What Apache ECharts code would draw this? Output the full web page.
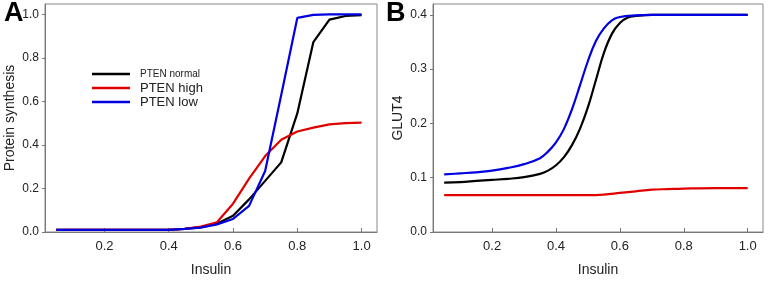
<!DOCTYPE html>
<html>
<head>
<meta charset="utf-8">
<script src="https://cdn.jsdelivr.net/npm/echarts@6/dist/echarts.min.js"></script>
<style>
  html, body { margin: 0; padding: 0; background: #fff; }
  #main { width: 769px; height: 282px; }
</style>
</head>
<body>
<div id="main"></div>
<script>
// panel A: protein synthesis vs insulin (straight segments, step 0.05)
var insulinA = [0.05, 0.1, 0.15, 0.2, 0.25, 0.3, 0.35, 0.4, 0.45, 0.5, 0.55, 0.6, 0.65, 0.7, 0.75, 0.8, 0.85, 0.9, 0.95, 1.0];
var normalA = [0.01, 0.01, 0.01, 0.01, 0.01, 0.01, 0.01, 0.01, 0.014, 0.022, 0.038, 0.075, 0.15, 0.235, 0.32, 0.545, 0.873, 0.976, 0.993, 0.997];
var highA   = [0.01, 0.01, 0.01, 0.01, 0.01, 0.01, 0.01, 0.01, 0.015, 0.025, 0.045, 0.13, 0.245, 0.349, 0.424, 0.462, 0.48, 0.495, 0.5, 0.503];
var lowA    = [0.01, 0.01, 0.01, 0.01, 0.01, 0.01, 0.01, 0.01, 0.014, 0.02, 0.035, 0.06, 0.12, 0.28, 0.63, 0.984, 0.998, 1.0, 1.0, 1.0];

// panel B: GLUT4 vs insulin
var insulinNormB = [0.05, 0.1, 0.15, 0.2, 0.25, 0.3, 0.35, 0.375, 0.4, 0.425, 0.45, 0.475, 0.5, 0.525, 0.55, 0.575, 0.6, 0.625, 0.65, 0.7, 0.8, 0.9, 1.0];
var normalB      = [0.091, 0.092, 0.094, 0.096, 0.098, 0.101, 0.107, 0.113, 0.123, 0.138, 0.16, 0.19, 0.23, 0.28, 0.33, 0.365, 0.385, 0.395, 0.398, 0.4, 0.4, 0.4, 0.4];
var insulinLowB  = [0.05, 0.1, 0.15, 0.2, 0.25, 0.3, 0.35, 0.375, 0.4, 0.425, 0.45, 0.475, 0.5, 0.525, 0.55, 0.575, 0.6, 0.65, 0.7, 0.8, 0.9, 1.0];
var lowB         = [0.106, 0.108, 0.11, 0.113, 0.118, 0.125, 0.136, 0.148, 0.165, 0.19, 0.226, 0.27, 0.315, 0.352, 0.375, 0.39, 0.396, 0.399, 0.4, 0.4, 0.4, 0.4];
var insulinHighB = [0.05, 0.2, 0.4, 0.5, 0.55, 0.6, 0.65, 0.7, 0.75, 0.8, 0.9, 1.0];
var highB        = [0.068, 0.068, 0.068, 0.068, 0.069, 0.072, 0.075, 0.078, 0.079, 0.08, 0.081, 0.081];

var xTicks = [0.2, 0.4, 0.6, 0.8, 1.0];
var yTicksA = [0, 0.2, 0.4, 0.6, 0.8, 1.0];
var yTicksB = [0, 0.1, 0.2, 0.3, 0.4];

function pairs(xs, ys) {
    return xs.map(function (x, i) { return [x, ys[i]]; });
}

var font = 'Liberation Sans, Arial, sans-serif';
var black = '#000000', red = '#e00000', blue = '#0000e0';

function xAxis(idx) {
    return {
        type: 'value', gridIndex: idx, min: 0.015, max: 1.048,
        name: 'Insulin', nameLocation: 'middle', nameGap: 31,
        nameTextStyle: { fontFamily: font, fontSize: 14, color: '#222' },
        splitLine: { show: false },
        axisLine: { lineStyle: { color: '#777' } },
        axisTick: { inside: true, length: 4, customValues: xTicks, lineStyle: { color: '#777' } },
        axisLabel: { customValues: xTicks, margin: 8, fontFamily: font, fontSize: 13, color: '#222',
            formatter: function (v) { return v.toFixed(1); } }
    };
}
function yAxis(idx, max, ticks, name) {
    return {
        type: 'value', gridIndex: idx, min: 0, max: max,
        name: name, nameLocation: 'middle', nameGap: 28,
        nameTextStyle: { fontFamily: font, fontSize: 14, color: '#222' },
        splitLine: { show: false },
        axisLine: { lineStyle: { color: '#777' } },
        axisTick: { length: 3, customValues: ticks, lineStyle: { color: '#777' } },
        axisLabel: { customValues: ticks, margin: 6, fontFamily: font, fontSize: 12, color: '#222',
            formatter: function (v) { return v.toFixed(1); } }
    };
}
function line(name, color, xi, data) {
    return {
        name: name, type: 'line', xAxisIndex: xi, yAxisIndex: xi,
        data: data, showSymbol: false, symbol: 'none',
        smooth: xi === 1 ? 0.4 : false,
        lineStyle: { color: color, width: 2.2 }, itemStyle: { color: color },
        animation: false
    };
}

var option = {
    animation: false,
    grid: [
        { left: 45, right: 392, top: 4, bottom: 46, show: true, borderColor: '#888', borderWidth: 1 },
        { left: 433, right: 6, top: 4, bottom: 46, show: true, borderColor: '#888', borderWidth: 1 }
    ],
    legend: {
        orient: 'vertical', left: 92, top: 67, padding: 0, icon: 'rect',
        itemWidth: 38, itemHeight: 2.5, itemGap: 0,
        textStyle: { fontFamily: font, fontSize: 13, color: '#222', padding: [0, 0, 0, 5], lineHeight: 14 },
        data: [
            { name: 'PTEN normal', textStyle: { fontSize: 10 } },
            { name: 'PTEN high' },
            { name: 'PTEN low' }
        ]
    },
    graphic: [
        { type: 'text', left: 4, top: 0, style: { text: 'A', font: 'bold 27px ' + font, fill: '#000' } },
        { type: 'text', left: 386, top: 0, style: { text: 'B', font: 'bold 27px ' + font, fill: '#000' } }
    ],
    xAxis: [xAxis(0), xAxis(1)],
    yAxis: [yAxis(0, 1.048, yTicksA, 'Protein synthesis'), yAxis(1, 0.42, yTicksB, 'GLUT4')],
    series: [
        line('PTEN normal', black, 0, pairs(insulinA, normalA)),
        line('PTEN high', red, 0, pairs(insulinA, highA)),
        line('PTEN low', blue, 0, pairs(insulinA, lowA)),
        line('PTEN high', red, 1, pairs(insulinHighB, highB)),
        line('PTEN normal', black, 1, pairs(insulinNormB, normalB)),
        line('PTEN low', blue, 1, pairs(insulinLowB, lowB))
    ]
};

var chart = echarts.init(document.getElementById('main'));
chart.setOption(option);
</script>
</body>
</html>
